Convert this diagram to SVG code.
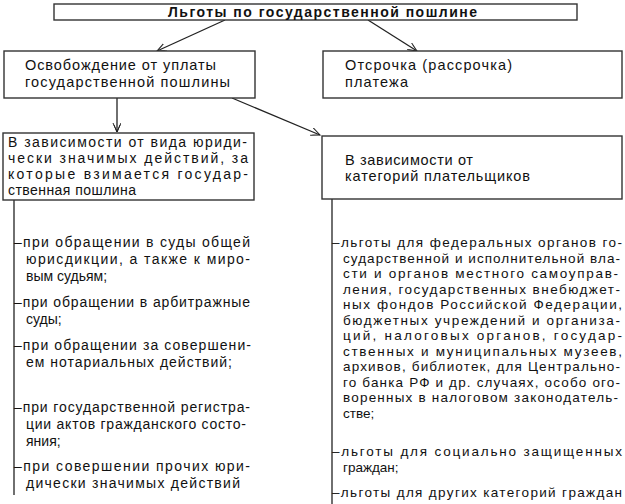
<svg xmlns="http://www.w3.org/2000/svg" width="625" height="504" viewBox="0 0 625 504">
<defs>
<marker id="arr" markerWidth="10" markerHeight="10" refX="9" refY="4" orient="auto" markerUnits="userSpaceOnUse">
<path d="M0,0 L9,4 L0,8 M2,1 L9,4 L2,7" fill="none" stroke="#222" stroke-width="1"/>
</marker>
<style>
.box{fill:#fff;stroke:#333;stroke-width:1.4}
.t{font-family:"Liberation Sans",Arial,sans-serif;font-size:13.5px;fill:#111}
.l{font-size:14px}
.tb{font-family:"Liberation Sans",Arial,sans-serif;font-size:14px;font-weight:bold;fill:#111}
.big{font-size:14.5px}
.ln{stroke:#222;stroke-width:1.3;fill:none}
</style>
</defs>
<rect width="625" height="504" fill="#fff"/>

<g id="connectors">
<line class="ln" x1="225" y1="20" x2="157" y2="51" marker-end="url(#arr)"/>
<line class="ln" x1="368" y1="20" x2="417" y2="51" marker-end="url(#arr)"/>
<line class="ln" x1="117" y1="98" x2="117" y2="132" marker-end="url(#arr)"/>
<line class="ln" x1="232" y1="98" x2="320" y2="135" marker-end="url(#arr)"/>
<line class="ln" x1="14" y1="200" x2="14" y2="495"/>
<line class="ln" x1="332" y1="199" x2="332" y2="504"/>
</g>

<g id="title">
<rect class="box" x="54" y="4" width="523" height="16"/>
<text class="tb" x="168" y="17" textLength="309" lengthAdjust="spacing">Льготы по государственной пошлине</text>
</g>

<g id="exemption">
<rect class="box" x="4" y="51" width="251" height="47"/>
<text class="t big" x="25" y="70" textLength="191" lengthAdjust="spacing">Освобождение от уплаты</text>
<text class="t big" x="25" y="87" textLength="205" lengthAdjust="spacing">государственной пошлины</text>
</g>

<g id="deferral">
<rect class="box" x="323" y="51" width="299" height="47"/>
<text class="t big" x="345" y="70" textLength="167" lengthAdjust="spacing">Отсрочка (рассрочка)</text>
<text class="t big" x="345" y="87" textLength="63" lengthAdjust="spacing">платежа</text>
</g>

<g id="by-action">
<rect class="box" x="3" y="133" width="251" height="67"/>
<text class="t l" x="8" y="147" textLength="239" lengthAdjust="spacing">В зависимости от вида юриди-</text>
<text class="t l" x="8" y="163" textLength="240" lengthAdjust="spacing">чески значимых действий, за</text>
<text class="t l" x="8" y="179" textLength="240" lengthAdjust="spacing">которые взимается государ-</text>
<text class="t l" x="8" y="195" textLength="128" lengthAdjust="spacing">ственная пошлина</text>
</g>

<g id="by-payer">
<rect class="box" x="322" y="136" width="300" height="63"/>
<text class="t big" x="345" y="165" textLength="128" lengthAdjust="spacing">В зависимости от</text>
<text class="t big" x="345" y="181" textLength="185" lengthAdjust="spacing">категорий плательщиков</text>
</g>

<g id="action-items">
<text class="t l" x="14" y="247" textLength="236" lengthAdjust="spacing">–при обращении в суды общей</text>
<text class="t l" x="26" y="264" textLength="224" lengthAdjust="spacing">юрисдикции, а также к миро-</text>
<text class="t l" x="26" y="281">вым судьям;</text>
<text class="t l" x="14" y="307" textLength="236" lengthAdjust="spacing">–при обращении в арбитражные</text>
<text class="t l" x="26" y="324">суды;</text>
<text class="t l" x="14" y="350" textLength="237" lengthAdjust="spacing">–при обращении за совершени-</text>
<text class="t l" x="26" y="367" textLength="206" lengthAdjust="spacing">ем нотариальных действий;</text>
<text class="t l" x="14" y="412" textLength="236" lengthAdjust="spacing">–при государственной регистра-</text>
<text class="t l" x="26" y="429" textLength="220" lengthAdjust="spacing">ции актов гражданского состо-</text>
<text class="t l" x="26" y="446">яния;</text>
<text class="t l" x="14" y="471" textLength="236" lengthAdjust="spacing">–при совершении прочих юри-</text>
<text class="t l" x="26" y="488" textLength="214" lengthAdjust="spacing">дически значимых действий</text>
</g>

<g id="payer-items">
<text class="t" x="332" y="247" textLength="290" lengthAdjust="spacing">–льготы для федеральных органов го-</text>
<text class="t" x="343" y="262.5" textLength="277" lengthAdjust="spacing">сударственной и исполнительной вла-</text>
<text class="t" x="343" y="278" textLength="275" lengthAdjust="spacing">сти и органов местного самоуправ-</text>
<text class="t" x="343" y="293.5" textLength="277" lengthAdjust="spacing">ления, государственных внебюджет-</text>
<text class="t" x="343" y="309" textLength="279" lengthAdjust="spacing">ных фондов Российской Федерации,</text>
<text class="t" x="343" y="324.5" textLength="277" lengthAdjust="spacing">бюджетных учреждений и организа-</text>
<text class="t" x="343" y="340" textLength="279" lengthAdjust="spacing">ций, налоговых органов, государ-</text>
<text class="t" x="343" y="355.5" textLength="279" lengthAdjust="spacing">ственных и муниципальных музеев,</text>
<text class="t" x="343" y="371" textLength="277" lengthAdjust="spacing">архивов, библиотек, для Центрально-</text>
<text class="t" x="343" y="386.5" textLength="277" lengthAdjust="spacing">го банка РФ и др. случаях, особо ого-</text>
<text class="t" x="343" y="402" textLength="275" lengthAdjust="spacing">воренных в налоговом законодатель-</text>
<text class="t" x="343" y="417.5">стве;</text>
<text class="t" x="332" y="456" textLength="290" lengthAdjust="spacing">–льготы для  социально защищенных</text>
<text class="t" x="343" y="472">граждан;</text>
<text class="t" x="332" y="497" textLength="290" lengthAdjust="spacing">–льготы для других категорий граждан</text>
</g>
</svg>
